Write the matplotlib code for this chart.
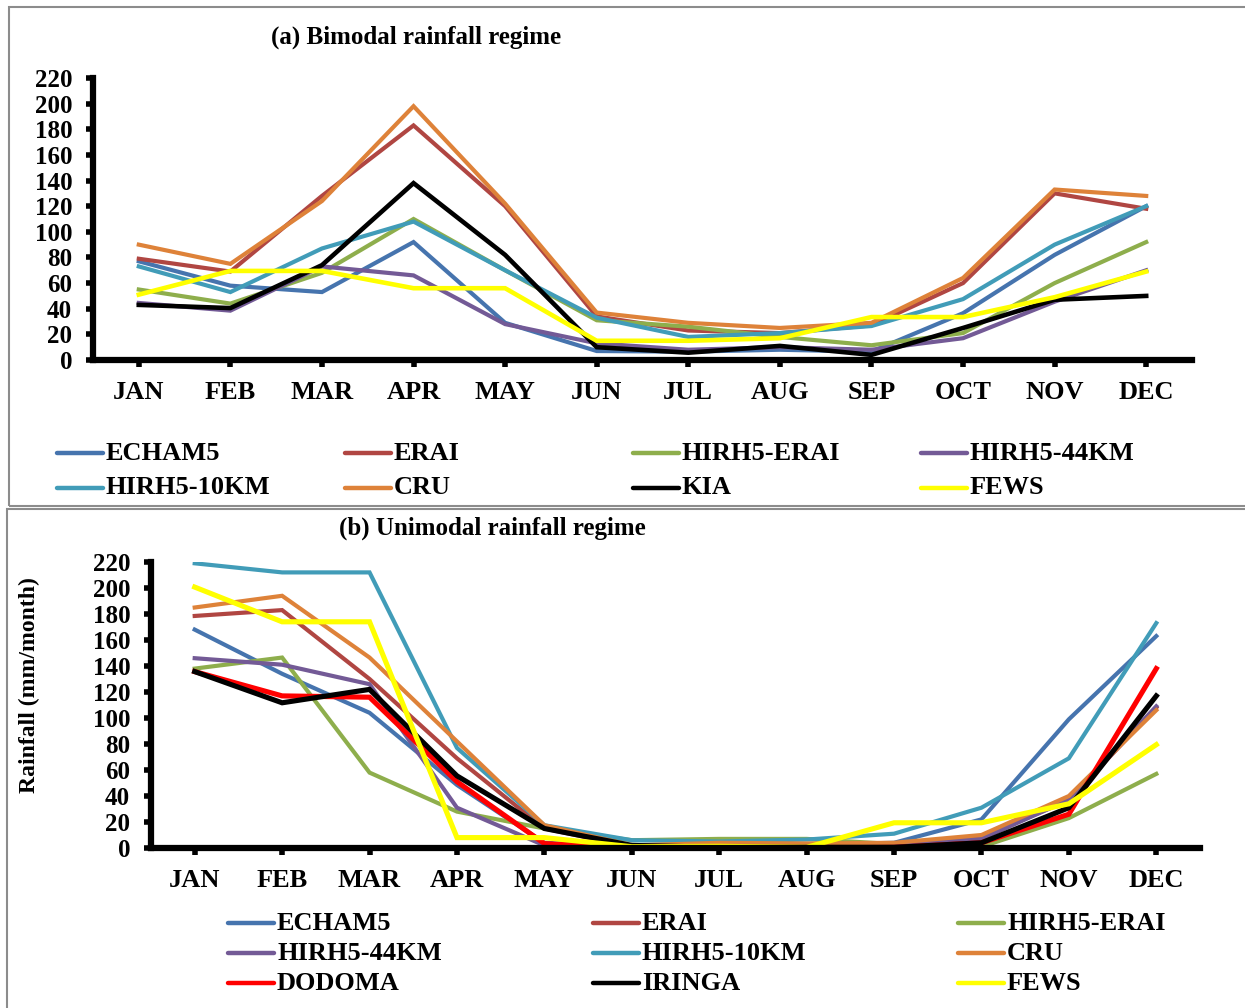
import matplotlib
matplotlib.use('Agg')
import matplotlib.pyplot as plt
import numpy as np
from matplotlib.lines import Line2D
from matplotlib.patches import Rectangle

plt.rcParams['font.family'] = ['Liberation Serif', 'DejaVu Serif']
plt.rcParams['font.weight'] = 'bold'

months = ['JAN', 'FEB', 'MAR', 'APR', 'MAY', 'JUN', 'JUL', 'AUG', 'SEP', 'OCT', 'NOV', 'DEC']

# (a) bimodal rainfall regime, mm/month
echam5_a = [77, 58, 53, 92, 29, 7, 6.5, 8, 6.5, 36.5, 82, 120]
erai_a = [79, 69, 128, 183, 120, 34, 23, 21, 27, 60, 130, 118]
hirh5_erai_a = [55, 44, 68, 110, 70, 31, 26, 18, 11.5, 21, 60, 92]
hirh5_44km_a = [44.5, 38.5, 73, 66, 28, 13, 8, 10, 8, 17, 45.5, 70]
hirh5_10km_a = [73, 53, 87, 108, 70, 33, 18, 21, 26.5, 47.5, 90, 120]
cru_a = [90, 75, 124, 198, 122, 37, 29, 25, 29, 64, 133, 128]
kia_a = [43, 40.5, 74, 138, 82, 10, 5.7, 11, 4, 25, 47, 50]
fews_a = [51, 69.5, 69.5, 56, 56, 15, 15, 17, 33.5, 33.5, 49, 69]

# (b) unimodal rainfall regime, mm/month
echam5_b = [168, 134, 104, 48.5, 4, 1, 2.5, 2.5, 4, 22, 99, 163]
erai_b = [178.5, 183, 130, 69, 15, 1, 2.5, 2.5, 2.5, 8, 37, 108]
hirh5_erai_b = [138, 146.5, 58, 28, 15, 6, 7, 7, 3, 1, 23, 57]
hirh5_44km_b = [146, 141, 126, 31, 2, 1, 1, 1, 2, 7, 37, 109]
hirh5_10km_b = [219, 212, 212, 77, 17.5, 6, 5, 6.5, 11, 31, 69, 173]
cru_b = [185, 194, 146.5, 82, 17.5, 2, 4, 3.5, 4, 10, 40, 106]
dodoma_b = [135.7, 117, 116, 51, 3.4, 0, 0, 0, 0.5, 4, 26, 138]
iringa_b = [135.7, 111.7, 122, 55.5, 15, 2, 0.5, 0.5, 0.5, 4, 31, 117]
fews_b = [200.7, 174, 174, 8, 8, 1, 1.3, 0.5, 19.4, 19.4, 34, 79.5]

BLUE = '#4674ae'
RED = '#b04642'
GREEN = '#8eae4c'
PURPLE = '#735a96'
CYAN = '#419cb8'
ORANGE = '#de8239'

series_a = [
    ('ECHAM5', echam5_a, BLUE, 3.0),
    ('ERAI', erai_a, RED, 3.0),
    ('HIRH5-ERAI', hirh5_erai_a, GREEN, 3.0),
    ('HIRH5-44KM', hirh5_44km_a, PURPLE, 3.0),
    ('HIRH5-10KM', hirh5_10km_a, CYAN, 3.0),
    ('CRU', cru_a, ORANGE, 3.0),
    ('KIA', kia_a, 'black', 3.3),
    ('FEWS', fews_a, '#ffff00', 3.3),
]
series_b = [
    ('ECHAM5', echam5_b, BLUE, 3.0),
    ('ERAI', erai_b, RED, 3.0),
    ('HIRH5-ERAI', hirh5_erai_b, GREEN, 3.0),
    ('HIRH5-44KM', hirh5_44km_b, PURPLE, 3.0),
    ('HIRH5-10KM', hirh5_10km_b, CYAN, 3.0),
    ('CRU', cru_b, ORANGE, 3.0),
    ('DODOMA', dodoma_b, '#ff0000', 3.7),
    ('IRINGA', iringa_b, 'black', 3.7),
    ('FEWS', fews_b, '#ffff00', 3.7),
]

W, H = 1245, 1008
fig = plt.figure(figsize=(W / 100, H / 100), dpi=100)


def px(x, y):
    return x / W, 1 - y / H


def setup_axes(ax):
    for s in ['top', 'right']:
        ax.spines[s].set_visible(False)
    for s in ['left', 'bottom']:
        ax.spines[s].set_linewidth(4.5)
        ax.spines[s].set_capstyle('projecting')
    ax.set_xlim(-0.5, 11.5)
    ax.set_ylim(0, 220)
    ax.set_yticks(np.arange(0, 221, 20))
    ax.set_xticks(np.arange(12))
    ax.set_xticklabels(months)
    ax.tick_params(axis='both', direction='out', length=5, width=4, labelsize=18)
    ax.tick_params(axis='x', pad=10, labelsize=19)
    ax.tick_params(axis='y', pad=10)


def draw_legend(entries, x0, y0, dx, dy, ncol):
    for i, (name, _, color, _) in enumerate(entries):
        col, row = i % ncol, i // ncol
        x = x0 + col * dx
        y = y0 + row * dy
        xa, ya = px(x, y)
        xb, _ = px(x + 46, y)
        fig.add_artist(Line2D([xa, xb], [ya, ya], color=color, lw=3.2,
                              solid_capstyle='round', transform=fig.transFigure))
        fig.text(*px(x + 49, y), name, fontsize=19, fontweight='bold',
                 va='center', ha='left')


# panel frames
fig.add_artist(Rectangle(px(9, 506), (W + 10 - 9) / W, (506 - 7) / H, fill=False,
                         ec='#8c8c8c', lw=1.5, transform=fig.transFigure))
fig.add_artist(Rectangle(px(7, H + 10), (W + 10 - 7) / W, (H + 10 - 509) / H, fill=False,
                         ec='#8c8c8c', lw=1.5, transform=fig.transFigure))

# (a) bimodal
l, b = px(93, 360)
r, t = px(1192, 78)
ax1 = fig.add_axes([l, b, r - l, t - b])
x = np.arange(len(months))
for name, vals, color, lw in series_a:
    ax1.plot(x, vals, color=color, lw=lw, label=name, solid_joinstyle='miter')
setup_axes(ax1)
fig.text(*px(416, 37), '(a) Bimodal rainfall regime', fontsize=18,
         fontweight='bold', ha='center', va='center')
draw_legend(series_a, 57, 453, 288, 35, 4)

# (b) unimodal
l, b = px(151, 848)
r, t = px(1200, 562)
ax2 = fig.add_axes([l, b, r - l, t - b])
for name, vals, color, lw in series_b:
    ax2.plot(x, vals, color=color, lw=lw, label=name, solid_joinstyle='miter')
setup_axes(ax2)
ax2.set_ylabel('Rainfall (mm/month)', fontsize=17, fontweight='bold')
ax2.yaxis.set_label_coords(-0.106, 0.57)
fig.text(*px(492, 528), '(b) Unimodal rainfall regime', fontsize=18,
         fontweight='bold', ha='center', va='center')
draw_legend(series_b, 228, 923, 365, 30, 3)

fig.savefig('out.png', dpi=100)
